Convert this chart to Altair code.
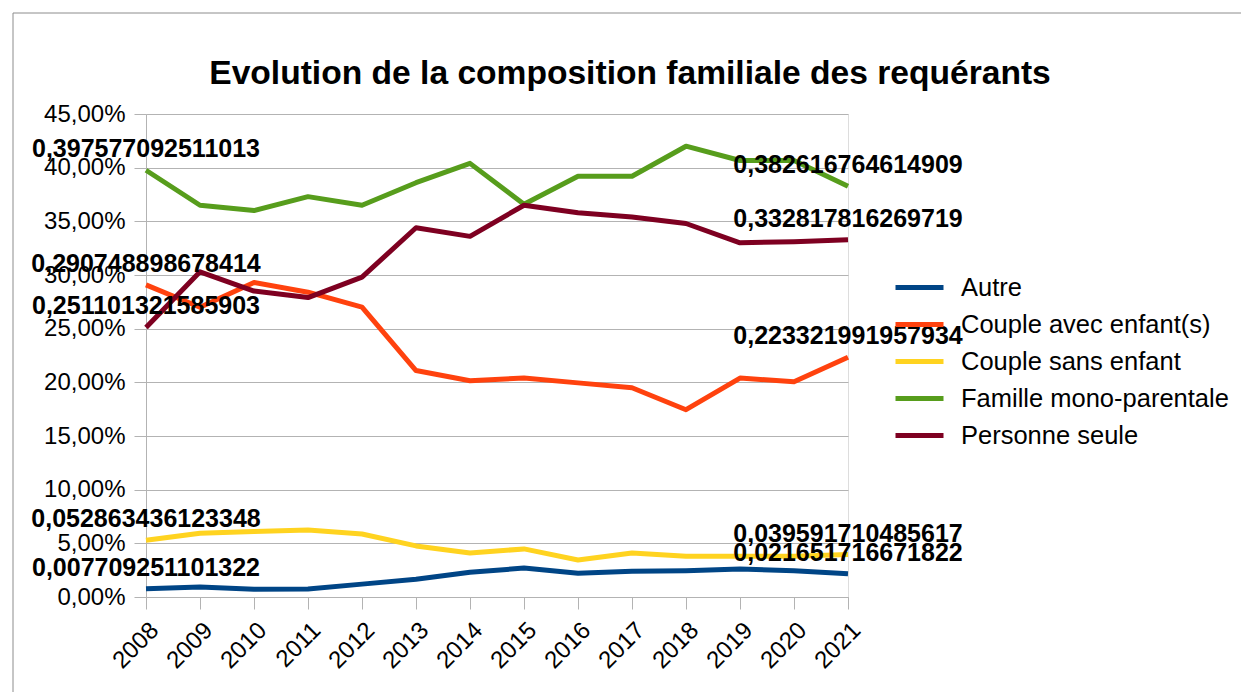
import altair as alt
import pandas as pd

years = ["2008", "2009", "2010", "2011", "2012", "2013", "2014",
         "2015", "2016", "2017", "2018", "2019", "2020", "2021"]

series_names = ["Autre", "Couple avec enfant(s)", "Couple sans enfant",
                "Famille mono-parentale", "Personne seule"]
series_colors = ["#004586", "#ff420e", "#ffd320", "#579d1c", "#7e0021"]

autre = [0.007709251101322, 0.0093, 0.0073, 0.0075, 0.012, 0.0166, 0.023,
         0.027, 0.0222, 0.024, 0.0245, 0.026, 0.0245, 0.021651716671822]
couple_avec = [0.290748898678414, 0.270, 0.293, 0.284, 0.270, 0.211, 0.2015,
               0.204, 0.1995, 0.195, 0.1745, 0.204, 0.2005, 0.223321991957934]
couple_sans = [0.052863436123348, 0.0594, 0.061, 0.0625, 0.0587, 0.0476, 0.041,
               0.0448, 0.0345, 0.041, 0.038, 0.038, 0.038, 0.039591710485617]
famille = [0.397577092511013, 0.365, 0.360, 0.373, 0.365, 0.386, 0.404,
           0.366, 0.392, 0.392, 0.420, 0.4067, 0.4067, 0.382616764614909]
personne = [0.251101321585903, 0.303, 0.285, 0.279, 0.298, 0.344, 0.336,
            0.365, 0.358, 0.354, 0.348, 0.330, 0.331, 0.332817816269719]

y_ticks = [0.0, 0.05, 0.10, 0.15, 0.20, 0.25, 0.30, 0.35, 0.40, 0.45]

title_text = "Evolution de la composition familiale des requérants"

all_series = [autre, couple_avec, couple_sans, famille, personne]
rows = []
for name, vals in zip(series_names, all_series):
    for i, (yr, v) in enumerate(zip(years, vals)):
        lab = str(v).replace(".", ",") if i in (0, len(years) - 1) else ""
        rows.append({"annee": yr, "serie": name, "valeur": v, "label": lab,
                     "ordre": series_names.index(name)})
df = pd.DataFrame(rows)

FONT = "Liberation Sans"
W, H = 702, 483
GRID = "#b3b3b3"

x_enc = alt.X("annee:O", scale=alt.Scale(type="point", padding=0),
              axis=alt.Axis(title=None, labelAngle=315, labelFontSize=24,
                            labelFont=FONT, labelColor="black", tickSize=12,
                            tickColor=GRID, domainColor=GRID, grid=False,
                            labelPadding=9))
y_enc = alt.Y("valeur:Q", scale=alt.Scale(domain=[0, 0.45], nice=False),
              axis=alt.Axis(title=None, values=y_ticks,
                            labelExpr="replace(format(datum.value, '.2%'), '.', ',')",
                            labelFontSize=24, labelFont=FONT, labelColor="black",
                            tickSize=12, tickColor=GRID, domainColor=GRID,
                            gridColor=GRID, labelPadding=9))

one = pd.DataFrame({"t": [title_text]})

frame_top = alt.Chart(one).mark_rule(stroke="#8c8c8c", strokeWidth=1).encode(
    x=alt.value(-133), x2=alt.value(1200), y=alt.value(-101))
frame_left = alt.Chart(one).mark_rule(stroke="#8c8c8c", strokeWidth=1).encode(
    x=alt.value(-133), y=alt.value(-101), y2=alt.value(700))

title = alt.Chart(one).mark_text(
    font=FONT, fontSize=33.6, fontWeight="bold", color="black",
    align="center", baseline="alphabetic"
).encode(x=alt.value(484), y=alt.value(-30), text="t:N")

lines = alt.Chart(df).mark_line(strokeWidth=5, strokeJoin="round").encode(
    x=x_enc, y=y_enc,
    color=alt.Color("serie:N",
                    scale=alt.Scale(domain=series_names, range=series_colors),
                    legend=alt.Legend(title=None, orient="none", legendX=747,
                                      legendY=155, symbolType="stroke",
                                      symbolSize=2304, symbolStrokeWidth=5,
                                      labelFontSize=25.5, labelFont=FONT,
                                      labelColor="black", rowPadding=0,
                                      clipHeight=37,
                                      labelOffset=15, padding=0, labelLimit=0)),
    order=alt.Order("ordre:Q"),
)

labels = alt.Chart(df).transform_filter("datum.label != ''").mark_text(
    font=FONT, fontSize=25, fontWeight="bold", color="black",
    baseline="middle", align="center", dy=-21
).encode(x=alt.X("annee:O"), y=alt.Y("valeur:Q"), text="label:N")

chart = alt.layer(frame_top, frame_left, title, lines, labels).properties(
    width=W, height=H,
    autosize=alt.AutoSizeParams(type="none"),
    padding={"left": 138, "top": 106, "right": 393, "bottom": 95},
).configure_view(stroke=GRID).configure(background="white")

chart.save("out.html", embed_options={"renderer": "svg", "actions": False})
